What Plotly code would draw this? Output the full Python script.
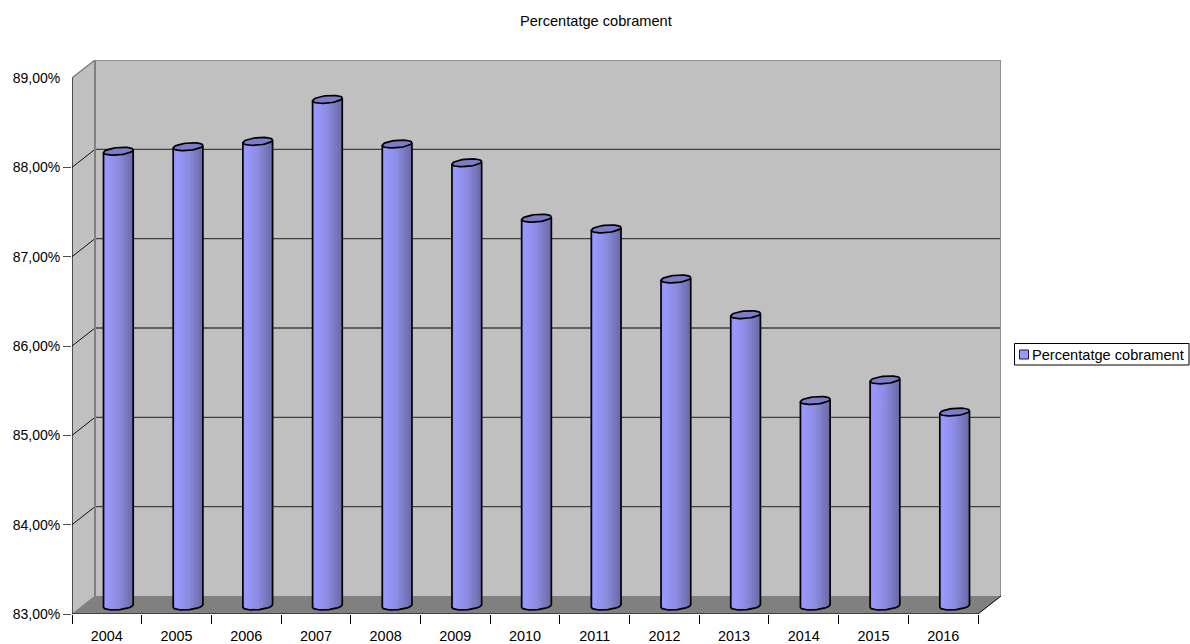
import math
import plotly.graph_objects as go

years = ["2004","2005","2006","2007","2008","2009","2010","2011","2012","2013","2014","2015","2016"]
values = [88.08,88.13,88.19,88.66,88.16,87.95,87.33,87.21,86.65,86.25,85.29,85.52,85.16]
y_ticks = [83,84,85,86,87,88,89]
y_labels = ["83,00%","84,00%","85,00%","86,00%","87,00%","88,00%","89,00%"]
series_name = "Percentatge cobrament"

L, R, T, B = 72, 189, 60, 30
W, H = 1190, 644
n = len(years)
DX = 23 / 69.69   # depth in category units
DY = 18 / 89.33   # depth in value units
PX_Y = 1 / 89.33
PX_X = 1 / 69.69
bar_half = 14.85 * PX_X
base = 83 + DY / 2 - 1.0 * PX_Y
ell_b = 3.7 * PX_Y
ell_s = 1.3 * PX_Y
FONT = "Liberation Sans, Arial, sans-serif"

fig = go.Figure()

# main bar (body under the shaded stripes)
centers = [i + 0.5 + DX / 2 for i in range(n)]
fig.add_trace(go.Bar(x=centers, y=[v + DY / 2 - base for v in values], base=base,
                     width=2 * bar_half, name=series_name, showlegend=False,
                     marker=dict(color="#9999FF", line=dict(width=0)),
                     hovertemplate="%{x}<extra></extra>"))

def lerp(a, b, t):
    return tuple(a[k] + (b[k] - a[k]) * t for k in range(3))

stops = [(0, (142,142,245)), (0.1, (153,153,255)), (0.5, (140,140,226)), (0.75, (122,122,192)), (1, (104,104,164))]
def shade(t):
    for (t0, c0), (t1, c1) in zip(stops, stops[1:]):
        if t <= t1:
            return "rgb(%d,%d,%d)" % lerp(c0, c1, (t - t0) / (t1 - t0))
    return "rgb(104,104,164)"

N = 20
def top_y(v, u):   # u in [-1,1]
    return v + DY / 2 + ell_s * u
def bot_y(u):
    return base - ell_b * math.sqrt(max(0, 1 - u * u)) + ell_s * u

for s in range(N):
    u0 = -1 + 2 * s / N
    u1 = min(-1 + 2 * (s + 1.25) / N, 1)
    xs, ys = [], []
    for c, v in zip(centers, values):
        xs += [c + u0 * bar_half, c + u1 * bar_half, c + u1 * bar_half, c + u0 * bar_half, c + u0 * bar_half, None]
        ys += [top_y(v, u0), top_y(v, u1), bot_y(u1), bot_y(u0), top_y(v, u0), None]
    fig.add_trace(go.Scatter(x=xs, y=ys, mode="lines", fill="toself", line=dict(width=0),
                             fillcolor=shade((s + 0.5) / N), hoverinfo="skip", showlegend=False))

# outlines and top ellipses
ox, oy, ex, ey = [], [], [], []
for c, v in zip(centers, values):
    ox += [c - bar_half, c - bar_half]
    oy += [top_y(v, -1), bot_y(-1)]
    for k in range(1, 25):
        u = -1 + 2 * k / 24
        ox.append(c + u * bar_half)
        oy.append(bot_y(u))
    ox += [c + bar_half, None]
    oy += [top_y(v, 1), None]
    for k in range(41):
        t = 2 * math.pi * k / 40
        ex.append(c + bar_half * math.cos(t))
        ey.append(v + DY / 2 + ell_s * math.cos(t) + ell_b * math.sin(t))
    ex.append(None)
    ey.append(None)
fig.add_trace(go.Scatter(x=ox, y=oy, mode="lines", line=dict(color="#000000", width=1.7),
                         hoverinfo="skip", showlegend=False))
fig.add_trace(go.Scatter(x=ex, y=ey, mode="lines", fill="toself", fillcolor="#7C7CC8",
                         line=dict(color="#000000", width=1.7), hoverinfo="skip", showlegend=False))

def poly(pts):
    return "M" + " L".join(f"{x},{y}" for x, y in pts) + " Z"

ymin, ymax = y_ticks[0], y_ticks[-1]
shapes = [
    dict(type="path", path=poly([(DX, ymin + DY), (n + DX, ymin + DY), (n + DX, ymax + DY), (DX, ymax + DY)]),
         fillcolor="#C0C0C0", line=dict(width=0), layer="below"),
    dict(type="path", path=poly([(0, ymin), (DX, ymin + DY), (DX, ymax + DY), (0, ymax)]),
         fillcolor="#C0C0C0", line=dict(width=0), layer="below"),
    dict(type="path", path=poly([(0, ymin), (n, ymin), (n + DX, ymin + DY), (DX, ymin + DY)]),
         fillcolor="#808080", line=dict(width=0), layer="below"),
]
def seg(x0, y0, x1, y1, color, width):
    return dict(type="line", x0=x0, y0=y0, x1=x1, y1=y1, line=dict(color=color, width=width), layer="below")

for t in y_ticks[1:-1]:
    shapes.append(seg(DX, t + DY, n + DX, t + DY, "#404040", 1.4))
    shapes.append(seg(0, t, DX, t + DY, "#101010", 1))
shapes += [
    seg(DX, ymax + DY, n + DX, ymax + DY, "#909090", 2),
    seg(n + DX, ymin + DY, n + DX, ymax + DY, "#909090", 2),
    seg(DX, ymin + DY, DX, ymax + DY, "#808080", 2),
    seg(0, ymax, DX, ymax + DY, "#808080", 1.5),
    seg(0, ymin, DX, ymin + DY, "#808080", 1),
    seg(n, ymin, n + DX, ymin + DY, "#000000", 1),
    seg(0, ymin, n, ymin, "#000000", 1.2),
    seg(0, ymin, 0, ymax, "#000000", 1.2),
]

# legend box and swatch
plot_w, plot_h = W - L - R, H - T - B
def px(x): return (x - L) / plot_w
def py(y): return (H - B - y) / plot_h
shapes += [
    dict(type="rect", xref="paper", yref="paper", x0=px(1014.5), x1=px(1189), y0=py(365), y1=py(343.5),
         line=dict(color="#000000", width=1), fillcolor="#FFFFFF"),
    dict(type="rect", xref="paper", yref="paper", x0=px(1019.5), x1=px(1028.5), y0=py(359), y1=py(350),
         line=dict(color="#1A1A40", width=1), fillcolor="#9999FF"),
]

fig.update_layout(
    width=W, height=H, margin=dict(l=L, r=R, t=T, b=B, autoexpand=False),
    paper_bgcolor="#FFFFFF", plot_bgcolor="#FFFFFF", showlegend=False,
    font=dict(family=FONT, size=14.6, color="#000000"),
    bargap=0,
    shapes=shapes,
    annotations=[
        dict(text=series_name, xref="paper", yref="paper", x=px(1030), y=py(354.5), xanchor="left",
             yanchor="middle", showarrow=False, font=dict(family=FONT, size=14.6, color="#000000")),
        dict(text=series_name, xref="paper", yref="paper", x=px(595.5), y=py(21.5), xanchor="center",
             yanchor="middle", showarrow=False, font=dict(family=FONT, size=14.6, color="#000000")),
    ],
    xaxis=dict(range=[0, n + DX], showgrid=False, zeroline=False, showline=False,
               tickmode="array", tickvals=[i + 0.5 for i in range(n)], ticktext=years,
               ticks="outside", ticklen=9, tickcolor="rgba(0,0,0,0)",
               minor=dict(tickmode="array", tickvals=list(range(n + 1)), ticks="outside", ticklen=9,
                          tickcolor="#000000", tickwidth=1, showgrid=False),
               tickfont=dict(family=FONT, size=14.4)),
    yaxis=dict(range=[ymin, ymax + DY], showgrid=False, zeroline=False, showline=False,
               tickmode="array", tickvals=y_ticks, ticktext=y_labels,
               ticks="outside", ticklen=8, tickcolor="rgba(0,0,0,0)",
               minor=dict(tickmode="array", tickvals=y_ticks[:-1], ticks="outside", ticklen=8,
                          tickcolor="#505050", tickwidth=1.4, showgrid=False),
               tickfont=dict(family=FONT, size=14)),
)
fig.write_html("out.html", post_script="document.body.style.margin='0';", config={"displayModeBar": False})
